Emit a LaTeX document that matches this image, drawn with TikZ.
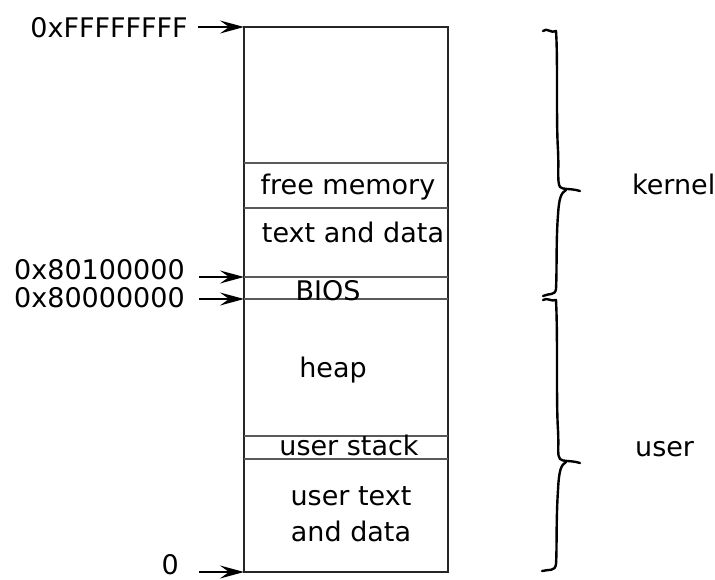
\documentclass[tikz,border=0pt]{standalone}
\usepackage{fontspec}
\setmainfont{DejaVu Sans}
\usetikzlibrary{arrows.meta}
\tikzset{
  lbl/.style={inner sep=0pt, font=\fontsize{27}{30}\selectfont},
  ptr/.style={-{Stealth[length=24pt,width=13pt,inset=9pt]}, line width=1.5pt},
  divider/.style={line width=1.3pt, draw=black!65},
  memframe/.style={draw=black!85, line width=2pt},
  brace/.style={line width=2.4pt, line cap=round, line join=round},
}
\begin{document}
\begin{tikzpicture}[x=1pt,y=-1pt]
\useasboundingbox (0,0) rectangle (715,579);
% memory column
\node[memframe, minimum width=204pt, minimum height=545pt, inner sep=0pt] (mem) at (346,299.5) {};
\coordinate (top) at (244,27);
\coordinate (k1) at (244,277);
\coordinate (k0) at (244,299);
\coordinate (bot) at (244,572);
\draw[divider] (244,163) -- (448,163);
\draw[divider] (244,208) -- (448,208);
\draw[divider] (k1) -- (448,277);
\draw[divider] (k0) -- (448,299);
\draw[divider] (244,436) -- (448,436);
\draw[divider] (244,459) -- (448,459);
% region texts
\node[lbl, anchor=base] (free) at (348,194) {free memory};
\node[lbl, anchor=base] (ktext) at (353,242) {text and data};
\node[lbl, anchor=base] (bios) at (328,300) {BIOS};
\node[lbl, anchor=base] (heap) at (333,377) {heap};
\node[lbl, anchor=base] (ustack) at (349,455) {user stack};
\node[lbl, anchor=base] (utext) at (351,505) {user text};
\node[lbl, anchor=base] (udata) at (351,541) {and data};
% addresses
\node[lbl, anchor=base east] (aF) at (188,37) {0xFFFFFFFF};
\node[lbl, anchor=base east] (a801) at (185,279) {0x80100000};
\node[lbl, anchor=base east] (a800) at (185,307) {0x80000000};
\node[lbl, anchor=base east] (a0) at (179,574) {0};
\draw[ptr] (aF.east |- top) ++(10,0) -- (top);
\draw[ptr] (a801.east |- k1) ++(14,0) -- (k1);
\draw[ptr] (a800.east |- k0) ++(14,0) -- (k0);
\draw[ptr] (a0.east |- bot) ++(20,0) -- (bot);
% braces
\coordinate (ktip) at (580,191);
\coordinate (utip) at (580,463);
\draw[brace] (543,31) .. controls (547,27) and (551,34) .. (556,31)
  .. controls (558,60) and (556,120) .. (558,150)
  .. controls (559,170) and (557,182) .. (560,187)
  .. controls (563,190) and (570,188) .. (ktip);
\draw[brace] (566,190) .. controls (561,193) and (559,198) .. (558,215)
  .. controls (556,240) and (557,270) .. (556,289)
  .. controls (555,296) and (549,293) .. (543,296);
\draw[brace] (543,300) .. controls (547,297) and (551,302) .. (556,300)
  .. controls (558,340) and (556,400) .. (558,430)
  .. controls (559,450) and (557,455) .. (560,459)
  .. controls (563,462) and (570,460) .. (utip);
\draw[brace] (566,462) .. controls (561,465) and (559,470) .. (558,490)
  .. controls (556,520) and (557,550) .. (556,564)
  .. controls (555,572) and (549,569) .. (542,571);
\node[lbl, anchor=base west] (kernel) at (632,194) {kernel};
\node[lbl, anchor=base west] (user) at (635,456) {user};
\end{tikzpicture}
\end{document}
